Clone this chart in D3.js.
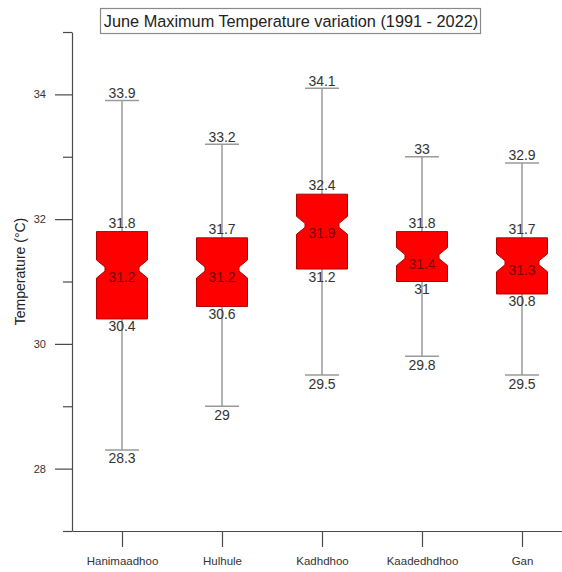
<!DOCTYPE html>
<html>
<head>
<meta charset="utf-8">
<script src="https://cdn.jsdelivr.net/npm/d3@7"></script>
<style>
body { margin: 0; background: #fff; }
text { font-family: "Liberation Sans", Arial, sans-serif; }
</style>
</head>
<body>
<div id="display"></div>
<script>
// stations and their June max temperature summary (1991 - 2022)
var stations = ["Hanimaadhoo", "Hulhule", "Kadhdhoo", "Kaadedhdhoo", "Gan"];
var maxVals  = [33.9, 33.2, 34.1, 33, 32.9];
var q3Vals   = [31.8, 31.7, 32.4, 31.8, 31.7];
var medVals  = [31.2, 31.2, 31.9, 31.4, 31.3];
var q1Vals   = [30.4, 30.6, 31.2, 31, 30.8];
var minVals  = [28.3, 29, 29.5, 29.8, 29.5];
var majorTicks = [28, 30, 32, 34];
var minorTicks = [27, 29, 31, 33, 35];
var title = "June Maximum Temperature variation (1991 - 2022)";

var W = 562, H = 572;
var plotLeft = 72, plotTop = 32, plotBottom = 531;

var data = stations.map(function(s, i) {
	return {name: s, max: maxVals[i], q3: q3Vals[i], med: medVals[i], q1: q1Vals[i], min: minVals[i]};
});

var x = d3.scalePoint().domain(stations).range([plotLeft, plotLeft + 500]).padding(0.5);
var y = d3.scaleLinear().domain([27, 35]).range([plotBottom, plotTop]);

var svg = d3.select("#display").append("svg")
	.attr("width", W)
	.attr("height", H);

// title box
svg.append("rect")
	.attr("x", 100.5).attr("y", 8.5)
	.attr("width", 380).attr("height", 25)
	.attr("fill", "none").attr("stroke", "#8a8a8a").attr("stroke-width", 1.2);
svg.append("text")
	.attr("x", 291).attr("y", 26.5)
	.attr("text-anchor", "middle")
	.style("font-size", "16.3px").attr("fill", "#222")
	.text(title);

// y axis
var yAxis = svg.append("g")
	.attr("transform", "translate(" + plotLeft + ",0)")
	.call(d3.axisLeft(y).tickValues(majorTicks).tickSize(17).tickSizeOuter(0).tickPadding(9).tickFormat(d3.format("d")));
svg.append("g")
	.attr("transform", "translate(" + plotLeft + ",0)")
	.call(d3.axisLeft(y).tickValues(minorTicks).tickSize(9).tickSizeOuter(0).tickFormat(""))
	.select(".domain").remove();

// x axis
var xAxis = svg.append("g")
	.attr("transform", "translate(0," + plotBottom + ")")
	.call(d3.axisBottom(x).tickSize(16).tickSizeOuter(0).tickPadding(10));

svg.selectAll(".domain, .tick line").attr("stroke", "#4a4a4a").attr("stroke-width", 1.2);
yAxis.selectAll(".tick text").style("font-size", "11px").attr("fill", "#333");
xAxis.selectAll(".tick text").style("font-size", "11.5px").attr("fill", "#333");

svg.append("text")
	.attr("transform", "translate(25," + ((plotTop + plotBottom) / 2 - 10) + ") rotate(-90)")
	.attr("text-anchor", "middle")
	.style("font-size", "14px").attr("fill", "#222")
	.text("Temperature (\u00B0C)");

// boxes
var boxW = 51, capW = 34, nd = 8.5, nh = 9, nf = 2;

var g = svg.append("g").selectAll("g.box")
	.data(data)
	.enter()
	.append("g").attr("class", "box");

g.append("line")
	.attr("x1", function(d) { return x(d.name); })
	.attr("x2", function(d) { return x(d.name); })
	.attr("y1", function(d) { return y(d.max); })
	.attr("y2", function(d) { return y(d.min); })
	.attr("stroke", "#9a9a9a").attr("stroke-width", 1.5);

g.selectAll("line.cap")
	.data(function(d) { return [{name: d.name, v: d.max}, {name: d.name, v: d.min}]; })
	.enter()
	.append("line").attr("class", "cap")
	.attr("x1", function(d) { return x(d.name) - capW / 2; })
	.attr("x2", function(d) { return x(d.name) + capW / 2; })
	.attr("y1", function(d) { return y(d.v); })
	.attr("y2", function(d) { return y(d.v); })
	.attr("stroke", "#9a9a9a").attr("stroke-width", 1.5);

g.append("path")
	.attr("d", function(d) {
		var cx = x(d.name), x0 = cx - boxW / 2, x1 = cx + boxW / 2;
		var t = y(d.q3), b = y(d.q1), m = y(d.med);
		return "M" + x0 + "," + t + "L" + x1 + "," + t +
			"L" + x1 + "," + (m - nh) + "L" + (x1 - nd) + "," + (m - nf) +
			"L" + (x1 - nd) + "," + (m + nf) + "L" + x1 + "," + (m + nh) +
			"L" + x1 + "," + b + "L" + x0 + "," + b +
			"L" + x0 + "," + (m + nh) + "L" + (x0 + nd) + "," + (m + nf) +
			"L" + (x0 + nd) + "," + (m - nf) + "L" + x0 + "," + (m - nh) + "Z";
	})
	.attr("fill", "#ff0000").attr("stroke", "#b00000").attr("stroke-width", 1);

// value labels
function label(sel, key, dy, col) {
	sel.append("text")
		.attr("x", function(d) { return x(d.name); })
		.attr("y", function(d) { return y(d[key]) + dy; })
		.attr("text-anchor", "middle")
		.style("font-size", "14px")
		.attr("fill", col)
		.text(function(d) { return String(d[key]); });
}
label(g, "max", -2.5, "#333");
label(g, "q3", -4, "#333");
label(g, "med", 12.5, "#7a0000");
label(g, "q1", 12.5, "#333");
label(g, "min", 13.5, "#333");
</script>
</body>
</html>
